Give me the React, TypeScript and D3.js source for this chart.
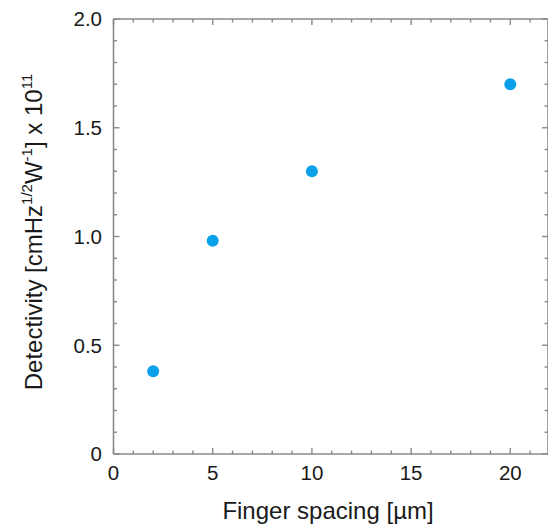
import React from "react";
import * as d3 from "d3";

const spacing = [2, 5, 10, 20];
const detectivity = [0.38, 0.98, 1.3, 1.7];
const xTicks = [0, 5, 10, 15, 20];
const yTicks = [0, 0.5, 1.0, 1.5, 2.0];
const yTickLabels = ["0", "0.5", "1.0", "1.5", "2.0"];

const W = 548;
const H = 528;
const left = 113.5;
const top = 19;
const bottom = 454;
const right = 548;

export default function App() {
  const x = d3.scaleLinear().domain([0, 22]).range([left, left + 22 * 19.84]);
  const y = d3.scaleLinear().domain([0, 2]).range([bottom, top]);
  const xMinor = d3.range(0, 23, 1);
  const yMinor = d3.range(0, 2.0001, 0.1);
  const axisColor = "#8a8a8a";
  const font = "'Liberation Sans', Arial, Helvetica, sans-serif";
  const isMajorX = (v: number) => v % 5 === 0;
  const isMajorY = (v: number) => Math.abs(Math.round(v * 2) - v * 2) < 1e-6;
  return (
    <svg width={W} height={H} style={{ position: "absolute", left: 0, top: 0, background: "#fff" }} fontFamily={font}>
      {/* frame */}
      <line x1={left} x2={left} y1={top} y2={bottom} stroke={axisColor} strokeWidth={1.6} />
      <line x1={left} x2={right + 5} y1={bottom} y2={bottom} stroke={axisColor} strokeWidth={1.6} />
      <line x1={left} x2={right + 5} y1={top} y2={top} stroke={axisColor} strokeWidth={1.6} />
      <line x1={right} x2={right} y1={top} y2={bottom} stroke={axisColor} strokeWidth={1.6} />
      {/* x ticks */}
      {xMinor.map((v) => {
        const len = isMajorX(v) ? 6 : 3.5;
        const px = x(v);
        if (px > right) return null;
        return (
          <g key={"xt" + v}>
            <line x1={px} x2={px} y1={bottom} y2={bottom - len} stroke={axisColor} strokeWidth={1.4} />
            <line x1={px} x2={px} y1={top} y2={top + len} stroke={axisColor} strokeWidth={1.4} />
          </g>
        );
      })}
      {/* y ticks */}
      {yMinor.map((v, i) => {
        const len = isMajorY(v) ? 6 : 3.5;
        const py = y(v);
        return (
          <g key={"yt" + i}>
            <line x1={left} x2={left + len} y1={py} y2={py} stroke={axisColor} strokeWidth={1.4} />
            <line x1={right} x2={right - len} y1={py} y2={py} stroke={axisColor} strokeWidth={1.4} />
          </g>
        );
      })}
      {/* x tick labels */}
      {xTicks.map((v) => (
        <text key={"xl" + v} x={x(v)} y={480} textAnchor="middle" fontSize={20.5} fill="#1a1a1a">
          {v}
        </text>
      ))}
      {/* y tick labels */}
      {yTicks.map((v, i) => (
        <text key={"yl" + i} x={102} y={y(v) + 7.3} textAnchor="end" fontSize={20.5} fill="#1a1a1a">
          {yTickLabels[i]}
        </text>
      ))}
      {/* points */}
      {spacing.map((s, i) => (
        <circle key={"p" + i} cx={x(s)} cy={y(detectivity[i])} r={6} fill="#0AA0EA" />
      ))}
      {/* x title */}
      <text x={328} y={519} textAnchor="middle" fontSize={24} fill="#1a1a1a">
        Finger spacing [µm]
      </text>
      {/* y title */}
      <text transform="translate(42,232) rotate(-90)" textAnchor="middle" fontSize={24} fill="#1a1a1a">
        <tspan>Detectivity [cmHz</tspan>
        <tspan fontSize={15} dy={-10}>1/2</tspan>
        <tspan dy={10}>W</tspan>
        <tspan fontSize={15} dy={-10}>-1</tspan>
        <tspan dy={10}>] x 10</tspan>
        <tspan fontSize={15} dy={-10}>11</tspan>
      </text>
    </svg>
  );
}
